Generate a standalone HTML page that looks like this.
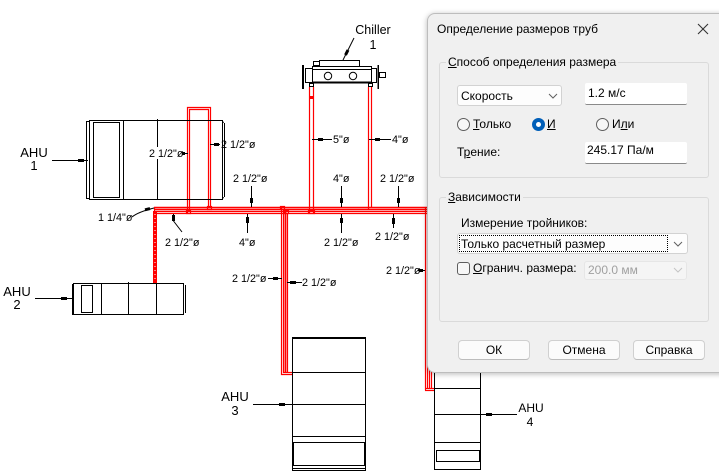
<!DOCTYPE html>
<html><head><meta charset="utf-8">
<style>
html,body{margin:0;padding:0;background:#fff;width:719px;height:474px;overflow:hidden;}
#c{position:relative;width:719px;height:474px;font-family:"Liberation Sans",sans-serif;overflow:hidden;}
svg{position:absolute;left:0;top:0;}
.a{position:absolute;white-space:nowrap;line-height:14px;font-size:12px;color:#000;}
.dlg{position:absolute;left:427px;top:13px;width:310px;height:358px;background:#f0f0f0;border:1px solid #bdbdbd;border-radius:8px;box-shadow:0 1px 6px rgba(0,0,0,0.28);}
.grp{position:absolute;border:1px solid #dadada;border-radius:3px;box-sizing:border-box;}
.leg{position:absolute;background:#f0f0f0;padding:0 2px;white-space:nowrap;line-height:14px;font-size:12px;}
.box{position:absolute;box-sizing:border-box;}
.btn{position:absolute;box-sizing:border-box;height:20px;width:72px;background:#fbfbfb;border:1px solid #d0d0d0;border-bottom-color:#bcbcbc;border-radius:4px;text-align:center;line-height:18px;font-size:12px;}
.rad{position:absolute;box-sizing:border-box;width:13px;height:13px;border-radius:50%;border:1px solid #5e5e5e;background:#f7f7f7;}
</style></head><body><div id="c">
<svg width="719" height="474" viewBox="0 0 719 474" font-family="Liberation Sans, sans-serif">
<!-- red pipes -->
<g fill="none" stroke="#ff0000" stroke-width="1.2">
  <line x1="154" y1="207.5" x2="430" y2="207.5" stroke-width="1.6"/>
  <line x1="154" y1="209.5" x2="430" y2="209.5" stroke-width="1.4"/>
  <line x1="154" y1="211.5" x2="430" y2="211.5"/>
  <line x1="154" y1="213.5" x2="430" y2="213.5"/>
  <line x1="154.5" y1="207" x2="154.5" y2="214"/>
  <polyline points="187.5,213 187.5,107.5 210.5,107.5 210.5,208"/>
  <polyline points="189.5,211 189.5,109.5 208.5,109.5 208.5,207"/>
  <rect x="186.5" y="210.5" width="4" height="3"/>
  <rect x="207.5" y="206.5" width="4" height="3"/>
  <line x1="309.5" y1="87" x2="309.5" y2="213"/>
  <line x1="313.5" y1="87" x2="313.5" y2="213"/>
  <line x1="368.5" y1="87" x2="368.5" y2="209"/>
  <line x1="371.5" y1="87" x2="371.5" y2="208"/>
  <rect x="308.5" y="210.5" width="6" height="3"/>
  <polyline points="281.5,207 281.5,374.5 292,374.5"/>
  <line x1="283.5" y1="209" x2="283.5" y2="373"/>
  <line x1="285.5" y1="211" x2="285.5" y2="372.5" stroke-width="1.8"/>
  <line x1="287.5" y1="213" x2="287.5" y2="372.5"/>
  <line x1="283" y1="372.5" x2="292" y2="372.5"/>
  <rect x="280.5" y="206.5" width="4" height="3"/>
  <rect x="284.5" y="210.5" width="4" height="3"/>
  <line x1="425.5" y1="207" x2="425.5" y2="390.5"/>
  <line x1="427.5" y1="209" x2="427.5" y2="388.5"/>
  <line x1="429.5" y1="211" x2="429.5" y2="388.5"/>
  <line x1="431.5" y1="213" x2="431.5" y2="388.5"/>
  <line x1="425" y1="388.5" x2="434" y2="388.5"/>
  <line x1="425" y1="390.5" x2="434" y2="390.5"/>
</g>
<rect x="153" y="211" width="4" height="72" fill="#ff0000"/>
<line x1="155" y1="214" x2="155" y2="282" stroke="#fff" stroke-width="1" stroke-dasharray="1,3"/>
<rect x="309" y="96" width="5" height="3" fill="#ff0000"/>

<!-- black equipment -->
<g fill="none" stroke="#000" stroke-width="1" shape-rendering="crispEdges">
  <rect x="89.5" y="120.5" width="133" height="79"/>
  <line x1="86.5" y1="122" x2="86.5" y2="198"/>
  <line x1="86" y1="121.5" x2="90" y2="121.5"/>
  <line x1="86" y1="198.5" x2="90" y2="198.5"/>
  <rect x="93.5" y="122.5" width="26" height="75"/>
  <line x1="123.5" y1="120" x2="123.5" y2="200"/>
  <line x1="157.5" y1="119" x2="157.5" y2="200"/>
  <line x1="224.5" y1="123" x2="224.5" y2="197"/>
  <line x1="222" y1="121.5" x2="224" y2="122.5"/>
  <line x1="222" y1="198.5" x2="224" y2="197.5"/>
  <rect x="73.5" y="283.5" width="110" height="31"/>
  <line x1="73" y1="284" x2="73" y2="315" stroke-width="2"/>
  <rect x="81.5" y="285.5" width="11" height="27"/>
  <line x1="101.5" y1="283" x2="101.5" y2="315"/>
  <line x1="128.5" y1="282" x2="128.5" y2="315"/>
  <line x1="156.5" y1="283" x2="156.5" y2="315"/>
  <line x1="185.5" y1="285" x2="185.5" y2="313"/>
  <rect x="292.5" y="338.5" width="73" height="132"/>
  <line x1="292" y1="338" x2="366" y2="338" stroke-width="2"/>
  <line x1="292" y1="372.5" x2="366" y2="372.5"/>
  <line x1="292" y1="404.5" x2="366" y2="404.5"/>
  <line x1="292" y1="436.5" x2="366" y2="436.5"/>
  <rect x="293.5" y="442.5" width="71" height="23" stroke-width="1.3"/>
  <line x1="292" y1="468.5" x2="366" y2="468.5"/>
  <line x1="434.5" y1="372" x2="434.5" y2="470"/>
  <line x1="480.5" y1="372" x2="480.5" y2="470"/>
  <line x1="434" y1="388.5" x2="481" y2="388.5"/>
  <line x1="434" y1="414.5" x2="481" y2="414.5"/>
  <line x1="434" y1="442.5" x2="481" y2="442.5"/>
  <rect x="436.5" y="450.5" width="43" height="11"/>
  <line x1="434" y1="469.5" x2="481" y2="469.5"/>
  <rect x="319.5" y="60.5" width="40" height="6"/>
  <rect x="313.5" y="61.5" width="6" height="4"/>
  <rect x="312.5" y="66.5" width="59" height="16"/>
  <line x1="312" y1="69.5" x2="372" y2="69.5"/>
  <line x1="312" y1="82.5" x2="372" y2="82.5" stroke-width="2"/>
  <line x1="303" y1="65" x2="303" y2="89" stroke-width="2"/>
  <rect x="305.5" y="68.5" width="7" height="14"/>
  <rect x="371.5" y="68.5" width="5" height="14"/>
  <line x1="378" y1="65" x2="378" y2="89" stroke-width="1.5"/>
  <rect x="379.5" y="72.5" width="6" height="5"/>
  <rect x="309.5" y="83.5" width="4" height="3"/>
  <rect x="368.5" y="83.5" width="4" height="3"/>
</g>
<g fill="none" stroke="#000" stroke-width="1">
  <circle cx="328" cy="76" r="3.7"/>
  <circle cx="353" cy="76" r="3.7"/>
</g>

<g stroke="#000" stroke-width="1" fill="none">
  <line x1="52" y1="160.5" x2="88" y2="160.5"/>
  <line x1="35" y1="298.5" x2="73" y2="298.5"/>
  <line x1="253" y1="404.5" x2="292" y2="404.5"/>
  <line x1="480" y1="414.5" x2="517" y2="414.5"/>
  <line x1="354" y1="38" x2="343" y2="60"/>
  <line x1="312" y1="139.5" x2="332" y2="139.5"/>
  <line x1="369" y1="139.5" x2="391" y2="139.5"/>
  <line x1="210" y1="144.5" x2="220" y2="144.5"/>
  <line x1="182" y1="153.5" x2="188" y2="153.5"/>
  <line x1="251.5" y1="186" x2="251.5" y2="207"/>
  <line x1="341.5" y1="186" x2="341.5" y2="207"/>
  <line x1="398.5" y1="186" x2="398.5" y2="207"/>
  <line x1="247.5" y1="214" x2="247.5" y2="233"/>
  <line x1="341.5" y1="214" x2="341.5" y2="233"/>
  <line x1="393.5" y1="214" x2="393.5" y2="228"/>
  <polyline points="173.5,214 173.5,221 182,232"/>
  <path d="M132 217 Q138 212 154 208"/>
  <line x1="268" y1="278.5" x2="282" y2="278.5"/>
  <line x1="287" y1="282.5" x2="302" y2="282.5"/>
  <line x1="418" y1="270.5" x2="425" y2="270.5"/>
</g>
<g stroke="#000" stroke-width="3" fill="none">
  <line x1="78" y1="160.5" x2="84" y2="160.5"/>
  <line x1="61" y1="298.5" x2="67" y2="298.5"/>
  <line x1="279" y1="404.5" x2="285" y2="404.5"/>
  <line x1="486" y1="414.5" x2="492" y2="414.5"/>
  <line x1="345.5" y1="55" x2="348" y2="50"/>
  <line x1="318" y1="139.5" x2="323" y2="139.5"/>
  <line x1="375" y1="139.5" x2="380" y2="139.5"/>
  <line x1="214" y1="144.5" x2="219" y2="144.5"/>
  <line x1="182" y1="153.5" x2="185" y2="153.5"/>
  <line x1="251.5" y1="198" x2="251.5" y2="203"/>
  <line x1="341.5" y1="198" x2="341.5" y2="203"/>
  <line x1="398.5" y1="198" x2="398.5" y2="203"/>
  <line x1="247.5" y1="217" x2="247.5" y2="223"/>
  <line x1="341.5" y1="218" x2="341.5" y2="223"/>
  <line x1="393.5" y1="218" x2="393.5" y2="224"/>
  <line x1="173.5" y1="215" x2="173.5" y2="221"/>
  <line x1="145" y1="209.8" x2="150" y2="208.6"/>
  <line x1="273" y1="278.5" x2="278" y2="278.5"/>
  <line x1="290" y1="282.5" x2="296" y2="282.5"/>
  <line x1="419" y1="270.5" x2="423" y2="270.5"/>
</g>

<rect x="148" y="147" width="34" height="12" fill="#fff"/>

<g fill="#000" font-size="13">
  <text x="373" y="34" text-anchor="middle" font-size="12.5">Chiller</text>
  <text x="373" y="49" text-anchor="middle" font-size="12.5">1</text>
  <text x="34" y="157" text-anchor="middle">AHU</text>
  <text x="34" y="170" text-anchor="middle">1</text>
  <text x="17" y="296" text-anchor="middle">AHU</text>
  <text x="17" y="309" text-anchor="middle">2</text>
  <text x="235" y="401" text-anchor="middle">AHU</text>
  <text x="235" y="415" text-anchor="middle">3</text>
  <text x="531" y="412" text-anchor="middle" font-size="12">AHU</text>
  <text x="530" y="426" text-anchor="middle" font-size="12">4</text>
</g>
<g fill="#000" font-size="10.8">
  <text x="149" y="157">2 1/2&quot;ø</text>
  <text x="221" y="148">2 1/2&quot;ø</text>
  <text x="98" y="221">1 1/4&quot;ø</text>
  <text x="233" y="182">2 1/2&quot;ø</text>
  <text x="333" y="182">4&quot;ø</text>
  <text x="380" y="182">2 1/2&quot;ø</text>
  <text x="333" y="143">5&quot;ø</text>
  <text x="392" y="143">4&quot;ø</text>
  <text x="165" y="246">2 1/2&quot;ø</text>
  <text x="239" y="246">4&quot;ø</text>
  <text x="324" y="246">2 1/2&quot;ø</text>
  <text x="375" y="240">2 1/2&quot;ø</text>
  <text x="232" y="282">2 1/2&quot;ø</text>
  <text x="302" y="286">2 1/2&quot;ø</text>
  <text x="386" y="274">2 1/2&quot;ø</text>
</g>
</svg>

<div class="dlg"></div>
<div class="a" style="left:437px;top:22px;">Определение размеров труб</div>
<svg width="719" height="474" style="pointer-events:none">
  <g stroke="#333" stroke-width="1.1">
    <line x1="698" y1="24" x2="708" y2="34"/>
    <line x1="708" y1="24" x2="698" y2="34"/>
  </g>
</svg>

<div class="grp" style="left:439px;top:62px;width:270px;height:116px;"></div>
<div class="leg" style="left:446px;top:55px;"><u>С</u>пособ определения размера</div>

<div class="box" style="left:457px;top:85px;width:105px;height:21px;background:#fdfdfd;border:1px solid #d2d2d2;border-radius:3px;"></div>
<div class="a" style="left:461px;top:89px;">Скорость</div>
<div class="box" style="left:585px;top:83px;width:102px;height:22px;background:#fff;border-bottom:1px solid #8a8a8a;border-radius:2px;"></div>
<div class="a" style="left:588px;top:86px;">1.2 м/с</div>

<div class="rad" style="left:457px;top:118px;"></div>
<div class="a" style="left:473px;top:117px;"><u>Т</u>олько</div>
<div class="rad" style="left:532px;top:118px;background:#005fb8;border-color:#005fb8;"></div>
<div style="position:absolute;left:536px;top:122px;width:5px;height:5px;border-radius:50%;background:#fff;"></div>
<div class="a" style="left:547px;top:117px;"><u>И</u></div>
<div class="rad" style="left:596px;top:118px;"></div>
<div class="a" style="left:612px;top:117px;">И<u>л</u>и</div>

<div class="a" style="left:457px;top:145px;">Т<u>р</u>ение:</div>
<div class="box" style="left:585px;top:142px;width:102px;height:22px;background:#fff;border-bottom:1px solid #8a8a8a;border-radius:2px;"></div>
<div class="a" style="left:587px;top:143px;">245.17 Па/м</div>

<div class="grp" style="left:439px;top:197px;width:270px;height:125px;"></div>
<div class="leg" style="left:446px;top:190px;"><u>З</u>ависимости</div>
<div class="a" style="left:461px;top:216px;">Измерение тройников:</div>

<div class="box" style="left:457px;top:233px;width:231px;height:21px;background:#fdfdfd;border:1px solid #d2d2d2;border-radius:3px;"></div>
<div class="box" style="left:459px;top:235px;width:209px;height:17px;border:1px dotted #000;"></div>
<div class="a" style="left:461px;top:237px;">Только расчетный размер</div>

<div class="box" style="left:457px;top:262px;width:13px;height:13px;border:1px solid #5e5e5e;border-radius:3px;background:#f7f7f7;"></div>
<div class="a" style="left:473px;top:261px;"><u>О</u>гранич. размера:</div>
<div class="box" style="left:584px;top:261px;width:103px;height:19px;background:#f5f5f5;border:1px solid #e6e6e6;border-radius:3px;"></div>
<div class="a" style="left:588px;top:263px;color:#a0a0a0;">200.0 мм</div>

<svg width="719" height="474" style="pointer-events:none">
  <polyline points="549,94 553,98 557,94" fill="none" stroke="#606060" stroke-width="1"/>
  <polyline points="674,242 678,246 682,242" fill="none" stroke="#606060" stroke-width="1"/>
  <polyline points="674,268 678,272 682,268" fill="none" stroke="#c4c4c4" stroke-width="1"/>
</svg>

<div class="btn" style="left:458px;top:340px;">ОК</div>
<div class="btn" style="left:548px;top:340px;">Отмена</div>
<div class="btn" style="left:633px;top:340px;">Справка</div>
</div></body></html>
